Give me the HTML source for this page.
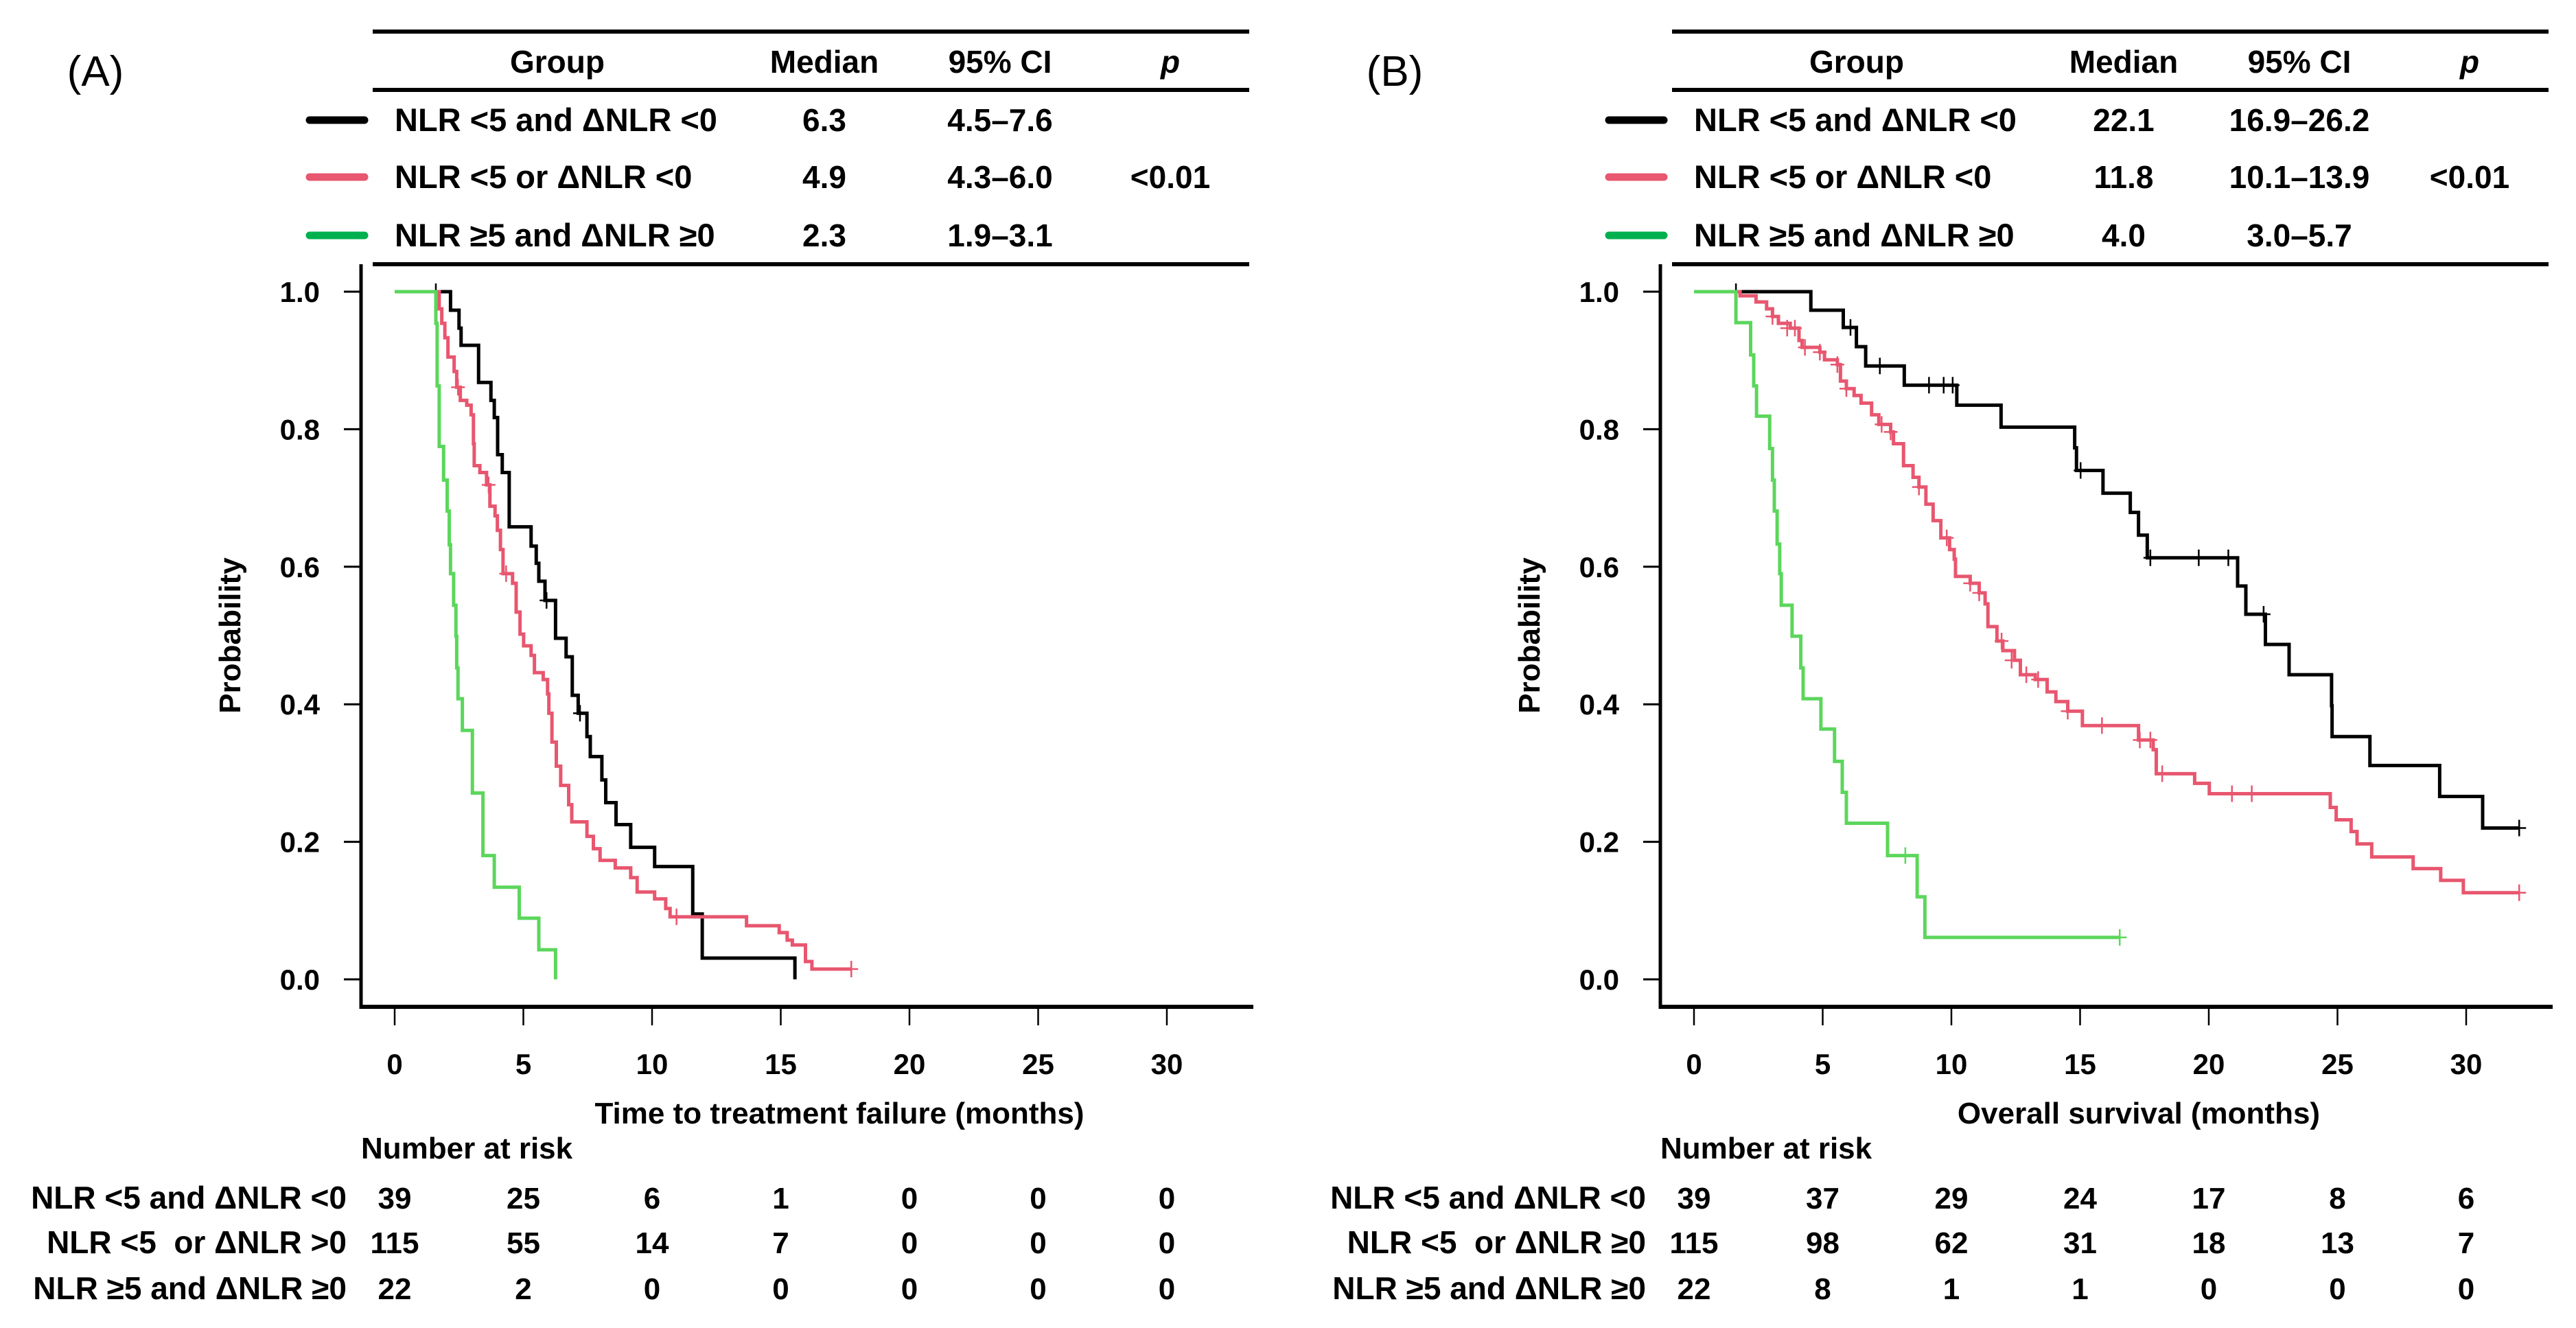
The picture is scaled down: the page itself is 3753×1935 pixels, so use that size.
<!DOCTYPE html>
<html><head><meta charset="utf-8"><style>
html,body{margin:0;padding:0;background:#fff}
svg{display:block;font-family:"Liberation Sans",Arial,sans-serif}
.b{font-weight:bold}
text{white-space:pre}
</style></head><body>
<svg id="fig" xmlns="http://www.w3.org/2000/svg" xml:space="preserve" width="3753" height="1935" viewBox="0 0 3753 1935">
<rect width="3753" height="1935" fill="#fff"/>
<g id="panelA"></g>
<g id="panelB" transform="translate(1893,0)"></g>
</svg>
<script>
// ---------- data ----------
const xTicks = [0,5,10,15,20,25,30];
const yTicks = [0,0.2,0.4,0.6,0.8,1.0];
const yTickLabels = ["0.0","0.2","0.4","0.6","0.8","1.0"];
const groupNamesA = ["NLR <5 and \u0394NLR <0","NLR <5 or \u0394NLR <0","NLR \u22655 and \u0394NLR \u22650"];
const mediansA = ["6.3","4.9","2.3"];
const cisA = ["4.5\u20137.6","4.3\u20136.0","1.9\u20133.1"];
const mediansB = ["22.1","11.8","4.0"];
const cisB = ["16.9\u201326.2","10.1\u201313.9","3.0\u20135.7"];
const pValue = "<0.01";
const riskLabelsA = ["NLR <5 and \u0394NLR <0","NLR <5  or \u0394NLR >0","NLR \u22655 and \u0394NLR \u22650"];
const riskLabelsB = ["NLR <5 and \u0394NLR <0","NLR <5  or \u0394NLR \u22650","NLR \u22655 and \u0394NLR \u22650"];
const riskA = [[39,25,6,1,0,0,0],[115,55,14,7,0,0,0],[22,2,0,0,0,0,0]];
const riskB = [[39,37,29,24,17,8,6],[115,98,62,31,18,13,7],[22,8,1,1,0,0,0]];

// Panel A: step times and survival after step
const blackA_t = [2.17,2.5,2.58,3.26,3.74,3.87,4.0,4.18,4.45,5.3,5.5,5.6,5.84,6.25,6.66,6.9,7.13,7.47,7.6,8.05,8.2,8.6,9.17,10.1,11.58,11.95,15.55];
const blackA_s = [.973,.947,.922,.868,.842,.817,.763,.737,.658,.630,.605,.579,.551,.496,.469,.413,.387,.353,.324,.290,.257,.225,.192,.164,.095,.031,0];
const blackA_end = 15.55;
const blackA_ct = [1.6,5.9,7.2];
const blackA_cs = [1.0,.551,.387];
const redA_t = [1.73,1.83,1.95,2.07,2.31,2.41,2.55,2.80,2.97,3.06,3.09,3.31,3.57,3.70,3.90,3.99,4.11,4.21,4.58,4.72,4.87,5.01,5.30,5.43,5.77,5.94,5.99,6.11,6.28,6.45,6.76,6.88,7.47,7.72,7.98,8.57,9.17,9.42,10.10,10.53,10.70,13.67,14.94,15.25,15.45,15.96,16.21];
const redA_s = [.975,.954,.933,.905,.884,.861,.842,.835,.821,.779,.747,.737,.719,.688,.674,.653,.625,.590,.576,.534,.502,.485,.471,.446,.436,.415,.387,.345,.310,.282,.254,.229,.208,.190,.173,.162,.148,.127,.117,.103,.091,.078,.068,.057,.050,.026,.015];
const redA_end = 17.74;
const redA_ct = [2.46,3.65,4.33,10.95,17.74];
const redA_cs = [.861,.719,.590,.091,.015];
const greenA_t = [1.6,1.65,1.73,1.90,2.04,2.12,2.17,2.29,2.38,2.41,2.46,2.63,3.02,3.43,3.87,4.84,5.60,6.25];
const greenA_s = [.954,.863,.775,.726,.681,.632,.590,.544,.499,.453,.408,.362,.271,.180,.134,.089,.043,0];
const greenA_end = 6.25;
const greenA_ct = [];
const greenA_cs = [];

// Panel B
const blackB_t = [4.54,5.80,6.31,6.67,8.17,10.21,11.93,14.79,14.86,15.89,16.95,17.27,17.61,21.12,21.44,22.20,23.12,24.77,24.79,26.26,28.97,30.64];
const blackB_s = [.973,.948,.920,.892,.864,.835,.803,.773,.740,.707,.679,.646,.613,.572,.531,.487,.443,.398,.353,.311,.266,.220];
const blackB_end = 32.06;
const blackB_ct = [1.63,6.08,7.22,9.13,9.70,10.05,15.02,17.73,19.61,20.76,22.13,32.06];
const blackB_cs = [1.0,.948,.892,.864,.864,.864,.740,.613,.613,.613,.531,.220];
const redB_t = [1.79,2.41,2.82,3.05,3.28,3.74,4.08,4.20,4.89,5.07,5.57,5.69,5.92,6.22,6.49,6.90,7.18,7.64,7.75,8.14,8.51,8.74,9.01,9.29,9.59,9.93,10.11,10.16,10.73,11.08,11.31,11.42,11.77,12.00,12.45,12.68,13.26,13.72,14.06,14.52,15.09,17.27,17.84,17.96,19.45,20.02,24.72,24.95,25.53,25.76,26.33,27.94,29.01,29.89];
const redB_s = [.994,.985,.975,.964,.954,.947,.929,.919,.912,.901,.894,.870,.859,.849,.838,.821,.807,.796,.779,.747,.730,.716,.691,.667,.642,.625,.611,.586,.576,.562,.546,.513,.492,.478,.464,.443,.436,.418,.404,.390,.369,.348,.334,.299,.285,.270,.250,.232,.215,.197,.178,.161,.144,.126];
const redB_end = 32.06;
const redB_ct = [3.05,3.62,3.92,4.31,4.89,5.57,5.92,7.29,7.64,8.74,9.82,10.73,11.08,11.95,12.34,12.91,13.37,14.52,15.85,17.32,17.73,18.19,20.9,21.67,32.06];
const redB_cs = [.964,.947,.947,.919,.912,.894,.859,.807,.796,.716,.642,.576,.562,.492,.464,.443,.436,.390,.369,.348,.348,.299,.270,.270,.126];
const greenB_t = [1.63,2.20,2.32,2.43,2.94,3.05,3.12,3.23,3.33,3.39,3.81,4.15,4.24,4.93,5.46,5.76,5.92,7.52,8.67,8.97];
const greenB_s = [.955,.908,.863,.819,.772,.726,.681,.633,.590,.544,.499,.453,.408,.364,.317,.272,.227,.180,.120,.061];
const greenB_end = 16.54;
const greenB_ct = [8.21,16.54];
const greenB_cs = [.180,.061];

// ---------- drawing ----------
const NS = "http://www.w3.org/2000/svg";
const COLS = ["#000000","#e8566f","#5cd65c"];
const LEG = ["#000000","#e8566f","#00b04f"];
const X0 = 575, PXM = 37.5, Y1 = 425, Y0 = 1427;
function sx(t){ return X0 + t*PXM; }
function sy(p){ return Y0 - (Y0-Y1)*p; }
function mk(parent, tag, attrs, text){
  const e = document.createElementNS(NS, tag);
  for (const k in attrs) e.setAttribute(k, attrs[k]);
  if (text !== undefined) e.textContent = text;
  parent.appendChild(e);
  return e;
}

function drawPanel(g, letter, meds, cis, groupNames, riskLabels, risk, curves, title){
  let el = mk(g,'text',{x:139,y:125,'font-size':62,'text-anchor':'middle'},letter);
  
  
  [46,131,385].forEach((y,i)=>{
    const l = mk(g,'line',{x1:543,x2:1820,y1:y,y2:y,stroke:'#000','stroke-width':6});
    
    
  });
  const hdr = [["Group",812],["Median",1201],["95% CI",1457]];
  hdr.forEach(h=>{
    const t = mk(g,'text',{x:h[1],y:106,'font-size':46,'text-anchor':'middle','class':'b'},h[0]);
    
    
  });
  el = mk(g,'text',{x:1705,y:106,'font-size':46,'text-anchor':'middle','class':'b','font-style':'italic'},'p');
  
  
  const rowY = [175,258,343];
  for (let i=0;i<3;i++){
    const sw = mk(g,'line',{x1:451,x2:531,y1:rowY[i],y2:rowY[i],stroke:LEG[i],'stroke-width':11,'stroke-linecap':'round'});
    
    
    let t = mk(g,'text',{x:575,y:rowY[i]+16,'font-size':47,'class':'b'},groupNames[i]);
    
    
    t = mk(g,'text',{x:1201,y:rowY[i]+16,'font-size':46,'class':'b','text-anchor':'middle'},meds[i]);
    
    
    t = mk(g,'text',{x:1457,y:rowY[i]+16,'font-size':46,'class':'b','text-anchor':'middle'},cis[i]);
    
    
  }
  el = mk(g,'text',{x:1705,y:rowY[1]+16,'font-size':46,'class':'b','text-anchor':'middle'},pValue);
  
  

  el = mk(g,'line',{x1:526,x2:526,y1:385,y2:1470,stroke:'#000','stroke-width':5});
  
  
  el = mk(g,'line',{x1:524,x2:1826,y1:1467,y2:1467,stroke:'#000','stroke-width':6});
  
  
  yTicks.forEach((v,i)=>{
    const l = mk(g,'line',{x1:501,x2:526,y1:sy(v),y2:sy(v),stroke:'#000','stroke-width':3});
    
    
    const t = mk(g,'text',{x:466,y:sy(v)+15,'font-size':42,'class':'b','text-anchor':'end'},yTickLabels[i]);
    
    
  });
  xTicks.forEach(v=>{
    const l = mk(g,'line',{x1:sx(v),x2:sx(v),y1:1467,y2:1494,stroke:'#000','stroke-width':2.5});
    
    
    const t = mk(g,'text',{x:sx(v),y:1565,'font-size':42,'class':'b','text-anchor':'middle'},String(v));
    
    
  });
  el = mk(g,'text',{x:0,y:0,'font-size':44,'class':'b','text-anchor':'middle',transform:'translate(350,926) rotate(-90)'},'Probability');
  
  
  el = mk(g,'text',{x:1223,y:1637,'font-size':44,'class':'b','text-anchor':'middle'},title);
  
  

  curves.forEach((c,ci)=>{
    let d = 'M'+sx(0)+','+sy(1);
    for (let i=0;i<c.t.length;i++){
      d += ' H'+sx(c.t[i])+' V'+sy(c.s[i]);
    }
    d += ' H'+sx(c.end);
    const p = mk(g,'path',{d:d,fill:'none',stroke:COLS[ci],'stroke-width':5});
    
    
    for (let j=0;j<c.ct.length;j++){
      const cx = sx(c.ct[j]), cy = sy(c.cs[j]);
      const m = mk(g,'path',{d:'M'+(cx-10)+','+cy+' H'+(cx+10)+' M'+cx+','+(cy-12)+' V'+(cy+12),stroke:COLS[ci],'stroke-width':2.5,fill:'none'});
      
      
    }
  });

  el = mk(g,'text',{x:526,y:1688,'font-size':44,'class':'b'},'Number at risk');
  
  
  const ry = [1761,1826,1893];
  for (let i=0;i<3;i++){
    let t = mk(g,'text',{x:505,y:ry[i],'font-size':46,'class':'b','text-anchor':'end'},riskLabels[i]);
    
    
    for (let k=0;k<xTicks.length;k++){
      t = mk(g,'text',{x:sx(xTicks[k]),y:ry[i],'font-size':44,'class':'b','text-anchor':'middle'},String(risk[i][k]));
      
      
    }
  }
}

drawPanel(document.getElementById('panelA'),'(A)',mediansA,cisA,groupNamesA,riskLabelsA,riskA,[
  {t:blackA_t,s:blackA_s,end:blackA_end,ct:blackA_ct,cs:blackA_cs},
  {t:redA_t,s:redA_s,end:redA_end,ct:redA_ct,cs:redA_cs},
  {t:greenA_t,s:greenA_s,end:greenA_end,ct:greenA_ct,cs:greenA_cs}],
  'Time to treatment failure (months)');
drawPanel(document.getElementById('panelB'),'(B)',mediansB,cisB,groupNamesA,riskLabelsB,riskB,[
  {t:blackB_t,s:blackB_s,end:blackB_end,ct:blackB_ct,cs:blackB_cs},
  {t:redB_t,s:redB_s,end:redB_end,ct:redB_ct,cs:redB_cs},
  {t:greenB_t,s:greenB_s,end:greenB_end,ct:greenB_ct,cs:greenB_cs}],
  'Overall survival (months)');
</script>
</body></html>
